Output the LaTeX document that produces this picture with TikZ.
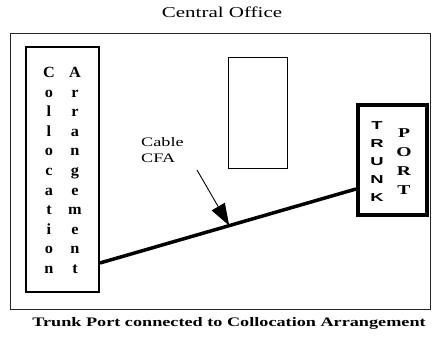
\documentclass[tikz,border=0pt]{standalone}
\usepackage{fontspec}
\setmainfont[FakeStretch=1.4]{Liberation Serif}
\newfontfamily\colfont[FakeStretch=1.05]{Liberation Serif}
\newfontfamily\portfont[FakeStretch=1.45]{Liberation Serif}
\newfontfamily\trunkfont[FakeStretch=1.6]{Liberation Sans}
\usetikzlibrary{arrows.meta}
\usetikzlibrary{calc}

\begin{document}
\begin{tikzpicture} [
        x=1pt, y=-1pt,
        frame/.style={draw=black!85, line width=0.9pt, rectangle},
        colbox/.style={draw, rectangle, line width=1.8pt},
        portbox/.style={draw, rectangle, line width=4pt},
        rack/.style={draw, rectangle, line width=0.8pt},
        letters/.style={align=center, inner sep=0pt, anchor=north,
                        font={\colfont\bfseries\fontsize{15.5}{19.6}\selectfont}},
        cable/.style={line width=3.5pt},
        pointer/.style={line width=0.9pt, -{Triangle[length=22pt,width=15pt]}} ]
    \useasboundingbox (0,0) rectangle (432,339);
    \node[frame, minimum width=420pt, minimum height=276pt] (office) at (220,171) {};
    \node[font=\fontsize{15}{17}\selectfont] (title) at (222,12) {Central Office};
    \node[colbox, minimum width=73pt, minimum height=245pt] (coll) at (62.5,169.5) {};
    \node[letters] (w1) at (49,67) {C\\o\\l\\l\\o\\c\\a\\t\\i\\o\\n};
    \node[letters] (w2) at (75,67) {A\\r\\r\\a\\n\\g\\e\\m\\e\\n\\t};
    \node[rack, minimum width=59pt, minimum height=111pt] (rack) at (257.5,112.5) {};
    \node[portbox, minimum width=69pt, minimum height=110pt] (trunk) at (392.5,160) {};
    \node[letters, font={\trunkfont\bfseries\fontsize{11.5}{18}\selectfont}] (w3) at (377,121) {T\\R\\U\\N\\K};
    \node[letters, font={\portfont\bfseries\fontsize{13.5}{19}\selectfont}] (w4) at (404,128) {P\\O\\R\\T};
    \draw[cable] ([yshift=-93.5pt]coll.east) coordinate (c1) -- ([yshift=-29pt]trunk.west) coordinate (c2);
    \coordinate (hit) at ($(c1)!0.505!(c2)$);
    \node[align=left, anchor=north west, inner sep=0pt, font={\fontsize{13}{16}\selectfont}] (cfa) at (141,137) {Cable\\CFA};
    \coordinate (tail) at (197,170);
    \draw[pointer] (tail) -- (hit);
    \node[font={\bfseries\fontsize{13}{15}\selectfont}] (caption) at (229,323) {Trunk Port connected to Collocation Arrangement};
\end{tikzpicture}
\end{document}
